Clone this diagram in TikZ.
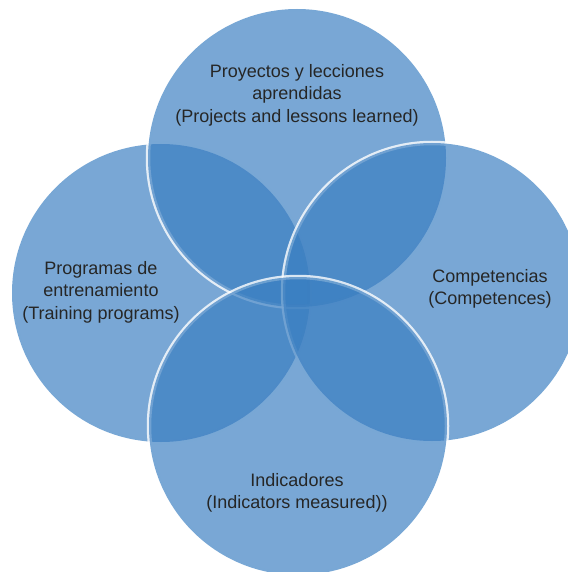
\documentclass[tikz,border=0pt]{standalone}
\usepackage{fontspec}
\setmainfont{Liberation Sans}
\usepackage{xcolor}
\usepackage{tikz}
\usetikzlibrary{positioning}
\definecolor{vennblue}{RGB}{57,126,193}
\definecolor{labelgray}{RGB}{38,38,38}
\tikzset{
  % white rim goes under the fill, so it only shows on the other sets
  venn/.style={circle, preaction={draw=white, line width=4.5pt, draw opacity=0.8},
               fill=vennblue, fill opacity=0.68, minimum size=298pt, inner sep=0pt},
  vlabel/.style={align=center, text=labelgray, inner sep=0pt,
                 font=\fontsize{18}{22.5}\selectfont},
}

\begin{document}
\begin{tikzpicture}[x=1pt, y=-1pt]
  \useasboundingbox (0,0) rectangle (567,572);
  % four sets, stacked left, top, right, bottom
  \node[venn] (left)   at (161,293) {};
  \node[venn] (top)    at (297,158) {};
  \node[venn] (right)  at (432,292) {};
  \node[venn] (bottom) at (298,426) {};
  \node[vlabel] (ltop)    at (297,95)  {Proyectos y lecciones\\aprendidas\\(Projects and lessons learned)};
  \node[vlabel] (lleft)   at (101,292) {Programas de\\entrenamiento\\(Training programs)};
  \node[vlabel] (lright)  at (490,289) {Competencias\\(Competences)};
  \node[vlabel] (lbottom) at (297,493) {Indicadores\\(Indicators measured))};
\end{tikzpicture}
\end{document}
